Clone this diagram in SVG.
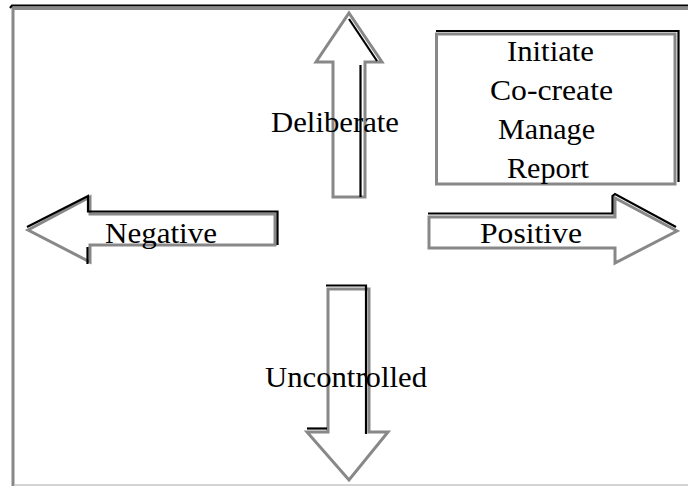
<svg xmlns="http://www.w3.org/2000/svg" width="688" height="486" viewBox="0 0 688 486">
<style>
.sh{fill:none;stroke:#888;stroke-width:3;stroke-linejoin:miter}
.bk{fill:none;stroke:#000;stroke-width:2.2}
.t{font-family:"Liberation Serif","Times New Roman",serif;font-size:29px;fill:#000}
</style>
<rect x="0" y="0" width="688" height="486" fill="#fff"/>
<g id="frame">
<path d="M10,8 L12,5.5 L688,5.5" class="bk" stroke-width="2.5"/>
<path d="M12,8.5 L688,8.5" class="sh"/>
<path d="M13,8 L13,486" class="sh" stroke-width="4"/>
<path d="M15,485 L688,485" fill="none" stroke="#d4d4d4" stroke-width="2"/>
</g>
<g id="connectors">
<g id="up-arrow">
<polygon class="sh" points="349,13 382,62 365,62 365,197 333,197 333,62 316,62"/>
<polyline class="bk" points="349,19 377,61"/>
<line class="bk" x1="360.5" y1="65" x2="360.5" y2="197"/>
</g>
<g id="left-arrow">
<polygon class="sh" points="28,230 90,197 90,214 275,214 275,245 90,245 90,262"/>
<polyline class="bk" points="27,227 88,196 88,211.5 277.5,211.5 277.5,245"/>
<line class="bk" x1="87.5" y1="247" x2="87.5" y2="264"/>
</g>
<g id="right-arrow">
<polygon class="sh" points="429,217 615,217 615,198 677,231 615,263 615,248 429,248"/>
<polyline class="bk" points="428,213.5 612.5,213.5 612.5,196 615,194 676,227"/>
</g>
<g id="down-arrow">
<polygon class="sh" points="328,289 369,289 369,432 388,432 349,480 307,432 328,432"/>
<polyline class="bk" points="326,285.5 366,285.5 366,434"/>
<line class="bk" x1="307" y1="428.5" x2="327" y2="428.5"/>
</g>
</g>
<g id="box">
<rect x="436.5" y="34" width="238.5" height="150" class="sh" stroke-width="3.5"/>
<polyline class="bk" points="436,31 678.5,31 678.5,182"/>
<text class="t" x="507" y="61" textLength="87" lengthAdjust="spacingAndGlyphs">Initiate</text>
<text class="t" x="490" y="100" textLength="123" lengthAdjust="spacingAndGlyphs">Co-create</text>
<text class="t" x="498" y="139" textLength="97" lengthAdjust="spacingAndGlyphs">Manage</text>
<text class="t" x="507" y="178" textLength="82" lengthAdjust="spacingAndGlyphs">Report</text>
</g>
<g id="labels">
<text class="t" x="271" y="132" textLength="128" lengthAdjust="spacingAndGlyphs">Deliberate</text>
<text class="t" x="105" y="243" textLength="112" lengthAdjust="spacingAndGlyphs">Negative</text>
<text class="t" x="480" y="243" textLength="102" lengthAdjust="spacingAndGlyphs">Positive</text>
<text class="t" x="265" y="387" textLength="162" lengthAdjust="spacingAndGlyphs">Uncontrolled</text>
</g>
</svg>
